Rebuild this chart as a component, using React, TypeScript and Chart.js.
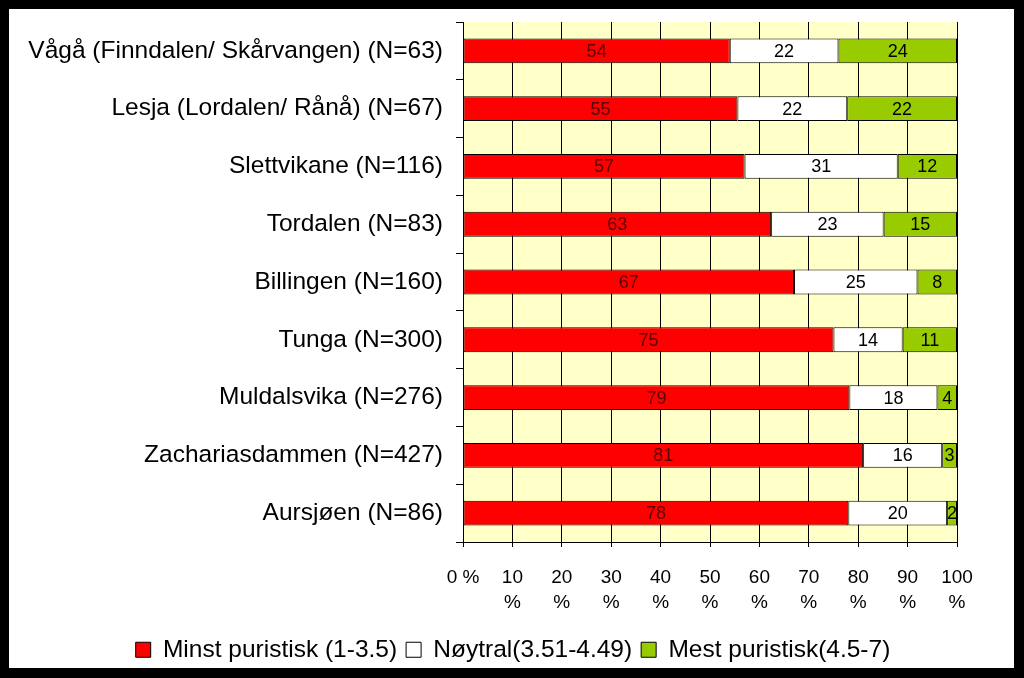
import React, { useEffect, useRef } from "react";
import { Chart, registerables } from "chart.js";

Chart.register(...registerables);

const categories = [
  "Vågå (Finndalen/ Skårvangen) (N=63)",
  "Lesja (Lordalen/ Rånå) (N=67)",
  "Slettvikane (N=116)",
  "Tordalen (N=83)",
  "Billingen (N=160)",
  "Tunga (N=300)",
  "Muldalsvika (N=276)",
  "Zachariasdammen (N=427)",
  "Aursjøen (N=86)",
];

const minstPuristisk = [54, 55, 57, 63, 67, 75, 79, 81, 78];
const noytral = [22, 22, 31, 23, 25, 14, 18, 16, 20];
const mestPuristisk = [24, 22, 12, 15, 8, 11, 4, 3, 2];

const seriesNames = [
  "Minst puristisk (1-3.5)",
  "Nøytral(3.51-4.49)",
  "Mest puristisk(4.5-7)",
];

const xTickLabels: string[][] = [
  ["0 %"],
  ["10", "%"],
  ["20", "%"],
  ["30", "%"],
  ["40", "%"],
  ["50", "%"],
  ["60", "%"],
  ["70", "%"],
  ["80", "%"],
  ["90", "%"],
  ["100", "%"],
];

const FONT = "'Liberation Sans', Arial, sans-serif";

export default function App() {
  const canvasRef = useRef<HTMLCanvasElement | null>(null);

  useEffect(() => {
    const canvas = canvasRef.current;
    if (!canvas) return;

    const raw = [minstPuristisk, noytral, mestPuristisk];
    const totals = categories.map((_, i) => raw.reduce((s, arr) => s + arr[i], 0));
    const pct = raw.map((arr) => arr.map((v, i) => (v / totals[i]) * 100));

    const bgPlugin = {
      id: "plotBg",
      beforeDraw(chart: any) {
        const { ctx, chartArea } = chart;
        ctx.save();
        ctx.fillStyle = "#FFFFC8";
        ctx.fillRect(
          chartArea.left,
          chartArea.top,
          chartArea.right - chartArea.left,
          chartArea.bottom - chartArea.top
        );
        ctx.restore();
      },
    };

    // centre the legend under the whole canvas rather than the padded area
    const legendShift = {
      id: "legendShift",
      afterLayout(chart: any) {
        const lg = chart.legend;
        if (!lg) return;
        lg.left += 30;
        lg.right += 30;
        lg.top += 4;
        lg.bottom += 4;
      },
    };

    const labelColors = ["#5a0000", "#000000", "#000000"];
    const valueLabels = {
      id: "valueLabels",
      afterDatasetsDraw(chart: any) {
        const { ctx } = chart;
        ctx.save();
        ctx.font = `18px ${FONT}`;
        ctx.textAlign = "center";
        ctx.textBaseline = "middle";
        chart.data.datasets.forEach((ds: any, di: number) => {
          const meta = chart.getDatasetMeta(di);
          meta.data.forEach((bar: any, i: number) => {
            const cx = (bar.x + bar.base) / 2;
            ctx.fillStyle = labelColors[di];
            ctx.fillText(String(raw[di][i]), cx, bar.y + 1);
          });
        });
        ctx.restore();
      },
    };

    const chart = new Chart(canvas, {
      type: "bar",
      data: {
        labels: categories,
        datasets: [
          {
            label: seriesNames[0],
            data: pct[0],
            backgroundColor: "#FF0000",
            borderColor: "#000000",
            borderWidth: 1,
            borderSkipped: false,
          },
          {
            label: seriesNames[1],
            data: pct[1],
            backgroundColor: "#FFFFFF",
            borderColor: "#000000",
            borderWidth: 1,
            borderSkipped: false,
          },
          {
            label: seriesNames[2],
            data: pct[2],
            backgroundColor: "#99CC00",
            borderColor: "#000000",
            borderWidth: 1,
            borderSkipped: false,
          },
        ],
      },
      options: {
        indexAxis: "y",
        responsive: false,
        animation: false,
        datasets: {
          bar: { barPercentage: 0.86, categoryPercentage: 0.5 },
        },
        layout: { padding: { top: 13, right: 57, left: 0, bottom: 0 } },
        plugins: {
          legend: {
            position: "bottom",
            labels: {
              color: "#000",
              font: { family: FONT, size: 24.5 },
              boxWidth: 15,
              boxHeight: 15,
              padding: 9,
            },
          },
          tooltip: { enabled: false },
        },
        scales: {
          x: {
            stacked: true,
            min: 0,
            max: 100,
            border: { color: "#000", width: 1 },
            grid: {
              color: "#000",
              lineWidth: 1,
              drawTicks: true,
              tickLength: 5,
            },
            ticks: {
              stepSize: 10,
              color: "#000",
              padding: 18.5,
              maxRotation: 0,
              autoSkip: false,
              font: { family: FONT, size: 19, lineHeight: "25px" },
              callback: (_v: any, idx: number) => xTickLabels[idx],
            },
            afterFit(scale: any) {
              scale.height = 82.5;
            },
          },
          y: {
            stacked: true,
            border: { color: "#000", width: 1 },
            grid: {
              color: "#000",
              drawOnChartArea: false,
              drawTicks: true,
              tickLength: 7,
              offset: true,
            },
            ticks: {
              color: "#000",
              padding: 13,
              autoSkip: false,
              font: { family: FONT, size: 24.5 },
            },
            afterFit(scale: any) {
              scale.width = 454;
              scale.paddingTop = 0;
              scale.paddingBottom = 0;
            },
          },
        },
      },
      plugins: [bgPlugin, legendShift, valueLabels],
    });

    return () => chart.destroy();
  }, []);

  return (
    <div
      style={{
        position: "fixed",
        left: 0,
        top: 0,
        width: 1024,
        height: 678,
        background: "#000",
      }}
    >
      <div
        style={{
          position: "absolute",
          left: 9,
          top: 9,
          width: 1005,
          height: 659,
          background: "#fff",
        }}
      >
        <canvas
          ref={canvasRef}
          width={1005}
          height={659}
          style={{ display: "block", width: 1005, height: 659 }}
        />
      </div>
    </div>
  );
}
